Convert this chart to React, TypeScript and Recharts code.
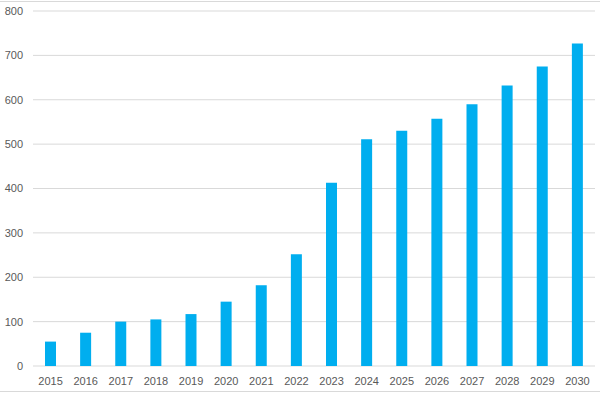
import { BarChart, Bar, XAxis, YAxis, CartesianGrid } from "recharts";

const years = [
  "2015", "2016", "2017", "2018", "2019", "2020", "2021", "2022",
  "2023", "2024", "2025", "2026", "2027", "2028", "2029", "2030",
];
const values = [55, 75, 100, 105, 117, 145, 182, 252, 413, 511, 530, 557, 590, 632, 675, 727];
const yTicks = [0, 100, 200, 300, 400, 500, 600, 700, 800];

const data = years.map((year, i) => ({ year, value: values[i] }));

const tickStyle = { fontSize: 11, fill: "#595959", fontFamily: "'Liberation Sans', Arial, sans-serif" };

export default function App() {
  return (
    <div
      style={{
        position: "absolute",
        left: 0,
        top: 0,
        width: 600,
        height: 394,
        background: "#fff",
      }}
    >
      {/* frame lines top and bottom */}
      <div style={{ position: "absolute", left: 0, top: 1, width: 600, height: 0, borderTop: "1px solid #d9d9d9" }} />
      <div style={{ position: "absolute", left: 0, top: 391, width: 600, height: 0, borderTop: "1px solid #d9d9d9" }} />
      <BarChart
        width={600}
        height={394}
        data={data}
        margin={{ top: 11, right: 5, left: 0, bottom: 0 }}
        barCategoryGap={0}
      >
        <CartesianGrid vertical={false} stroke="#d9d9d9" />
        <XAxis
          dataKey="year"
          axisLine={false}
          tickLine={false}
          tick={tickStyle}
          tickMargin={5}
          height={28}
          interval={0}
        />
        <YAxis
          domain={[0, 800]}
          ticks={yTicks}
          axisLine={false}
          tickLine={false}
          tick={tickStyle}
          width={33}
          tickMargin={4}
        />
        <Bar dataKey="value" fill="#00AEEF" barSize={11} isAnimationActive={false} />
      </BarChart>
    </div>
  );
}
